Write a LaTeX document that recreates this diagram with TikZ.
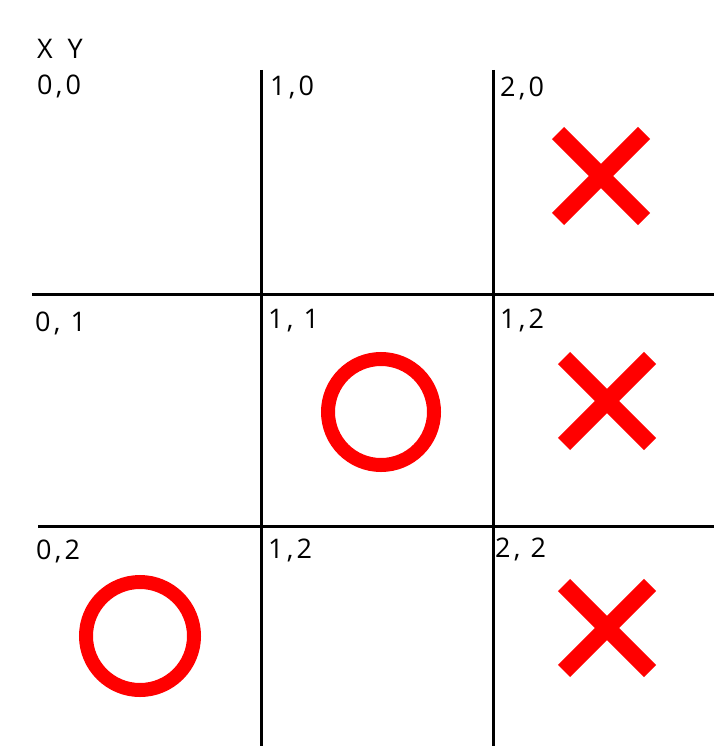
\documentclass[tikz,border=0pt]{standalone}
\usepackage{fontspec}
\setmainfont{Open Sans}[LetterSpace=12]
\usepackage{xcolor}
\definecolor{markred}{HTML}{FF0000}

\begin{document}
\begin{tikzpicture}[x=1pt, y=-1pt,
    gridline/.style={line width=3pt, black},
    cell/.style={anchor=west, inner sep=0pt, font=\fontsize{27}{27}\selectfont},
    cross/.style={line width=17pt, markred},
    ring/.style={line width=14pt, markred}]
  \useasboundingbox (0,0) rectangle (714,746);
  % grid
  \draw[gridline] (261,70) -- (261,746);
  \draw[gridline] (493,70) -- (493,746);
  \draw[gridline] (32,294) -- (714,294);
  \draw[gridline] (38,526) -- (714,526);
  % labels
  \node[cell] (axes) at (37,49) {X\, Y};
  \node[cell] (c00) at (37,86) {0,0};
  \node[cell] (c10) at (270,87) {1,0};
  \node[cell] (c20) at (500,88) {2,0};
  \node[cell] (c01) at (35,323) {0, 1};
  \node[cell] (c11) at (268,321) {1, 1};
  \node[cell] (c21) at (500,320) {1,2};
  \node[cell] (c02) at (36,551) {0,2};
  \node[cell] (c12) at (268,550) {1,2};
  \node[cell] (c22) at (495,549) {2, 2};
  % crosses
  \foreach \cx/\cy in {601/176, 607/401, 607/628}
    \draw[cross] (\cx-43,\cy-43) -- (\cx+43,\cy+43)
                 (\cx-43,\cy+43) -- (\cx+43,\cy-43);
  % rings
  \draw[ring] (381,412) circle[radius=53];
  \draw[ring] (140,636) circle[radius=54];
\end{tikzpicture}
\end{document}
